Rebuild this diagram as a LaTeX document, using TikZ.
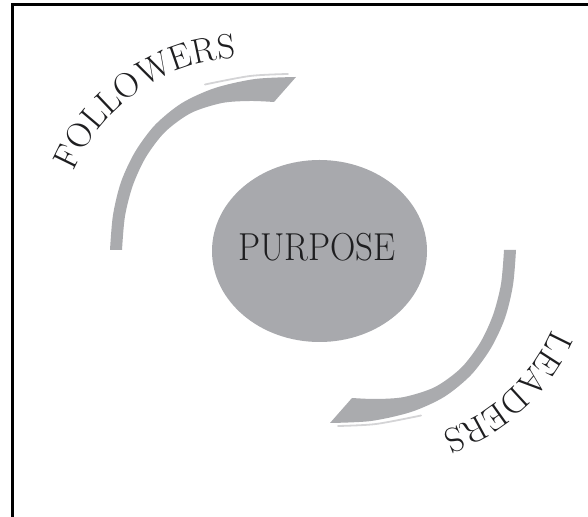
\documentclass[tikz,border=0pt]{standalone}
\usepackage{fontspec}
\usetikzlibrary{shapes.geometric,decorations.text}
\definecolor{discgray}{RGB}{168,169,173}
\definecolor{swoosh}{RGB}{170,171,174}
\definecolor{streak}{RGB}{212,212,214}
\definecolor{ink}{RGB}{30,30,32}
\newcommand\arcwordfont{\fontsize{35}{35}\selectfont\color{ink}}
\begin{document}
\begin{tikzpicture}[x=1pt,y=1pt,
  swooshfill/.style={fill=swoosh,draw=none},
  streakline/.style={draw=streak,line width=1.8pt,line cap=round},
  arcword/.style={decorate,decoration={text along path,text align=center,
    text format delimiters={|}{|},text={|\arcwordfont|#1}}},
]
\useasboundingbox (0,0) rectangle (588,516);

% outer frame (only its left and top sides fall inside the page)
\begin{scope}
  \clip (0,0) rectangle (588,516);
  \draw[line width=3.3pt] (12.6,-20) rectangle (620,511.6);
\end{scope}

% central disc
\node[ellipse,fill=discgray,minimum width=215pt,minimum height=182pt,inner sep=0pt]
  (purpose) at (319.5,265) {};
\node[text=ink,inner sep=0pt] (purposelabel) at (317,269)
  {\scalebox{0.9}[1]{\fontsize{39}{39}\selectfont PURPOSE}};

% swoosh on the upper left, and the same swoosh turned half a turn
\foreach \turn in {0,180}{
  \begin{scope}[rotate around={\turn:(313,266)}]
    \fill[swooshfill]
      plot[smooth] coordinates {(110,266) (113,301) (121,334) (135,364) (155,391)
        (182,413) (215,428) (255,437) (296,439)}
      -- plot[smooth] coordinates {(274,414) (250,415) (222,413) (191,403) (165,384)
        (146,359) (133,331) (125,300) (122,266)}
      -- cycle;
    \draw[streakline] plot[smooth] coordinates {(205,431.5) (250,440) (288,442)};
  \end{scope}
}

% curved words
\path[arcword=FOLLOWERS] (245,272) ++(170:186) arc[start angle=170,end angle=80,radius=186];
\path[arcword=LEADERS] (381,260) ++(-4:186) arc[start angle=-4,end angle=-90,radius=186];
\end{tikzpicture}
\end{document}
